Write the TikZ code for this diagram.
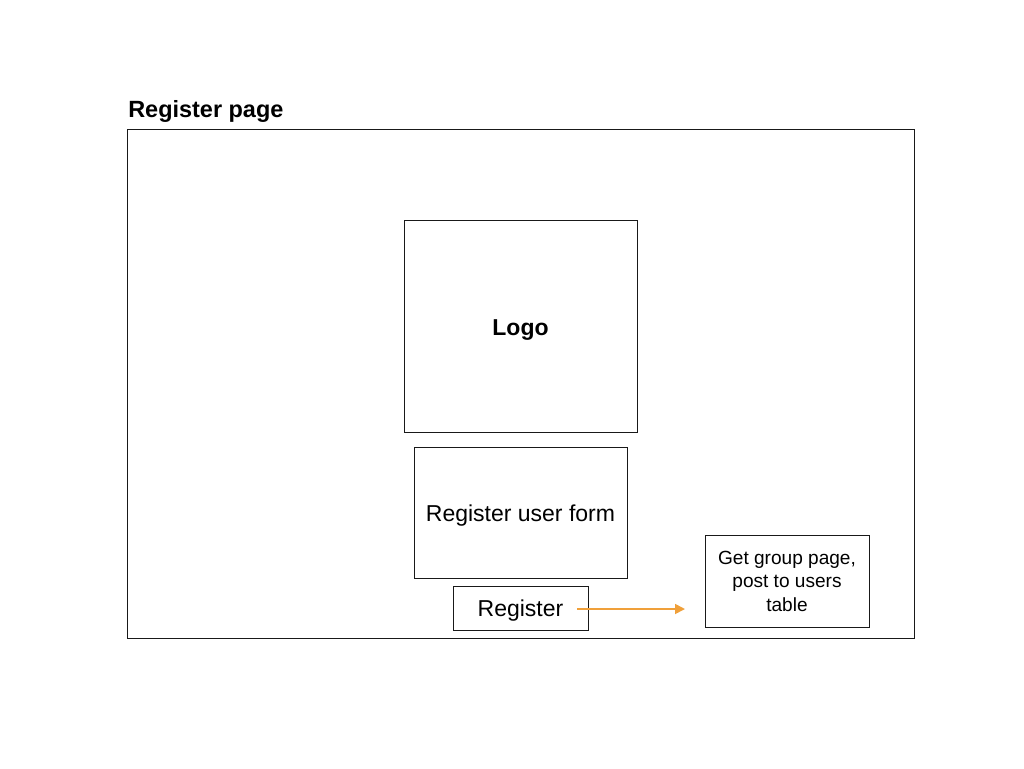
\documentclass[tikz,border=0pt]{standalone}
\usepackage{fontspec}
\setmainfont{Liberation Sans}
\usetikzlibrary{arrows.meta}
\definecolor{flow}{HTML}{F0A03A}
\begin{document}
\begin{tikzpicture}[x=0.75pt,y=-0.75pt,
  box/.style={draw=black!90,line width=0.6pt,inner sep=0pt,outer sep=0pt,align=center},
  bigtext/.style={font=\fontsize{17.25}{20}\selectfont},
  boldtext/.style={font=\fontsize{17.25}{20}\selectfont\bfseries},
  smalltext/.style={font=\fontsize{14.3}{17.6}\selectfont},
  flowarrow/.style={draw=flow,line width=1.3pt,-{Triangle[length=7.5pt,width=7.5pt]}}]
  \useasboundingbox (0,0) rectangle (1024,768);

  % page frame and title
  \node[box,minimum width=590.25pt,minimum height=381.75pt] (page) at (520.5,383.5) {};
  \node[anchor=base west,inner sep=0pt,font=\fontsize{17.6}{20}\selectfont\bfseries] (title) at (128,117) {Register page};

  % page content
  \node[box,boldtext,minimum width=174.75pt,minimum height=159pt,text height=14.5pt,text depth=0pt] (logo) at (520.5,326) {Logo};
  \node[box,bigtext,minimum width=159.75pt,minimum height=98.25pt,text height=13.8pt,text depth=0pt] (form) at (520.5,512.5) {Register user form};
  \node[box,bigtext,minimum width=101.25pt,minimum height=33pt,text height=12pt,text depth=0pt] (reg) at (520.5,608) {Register};
  \node[box,smalltext,minimum width=123pt,minimum height=69pt] (next) at (787,581) {Get group page,\\post to users\\table};

  % submit action
  \coordinate (submitStart) at (577,609);
  \coordinate (submitEnd) at (685,609);
  \draw[flowarrow] (submitStart) -- (submitEnd);
\end{tikzpicture}
\end{document}
